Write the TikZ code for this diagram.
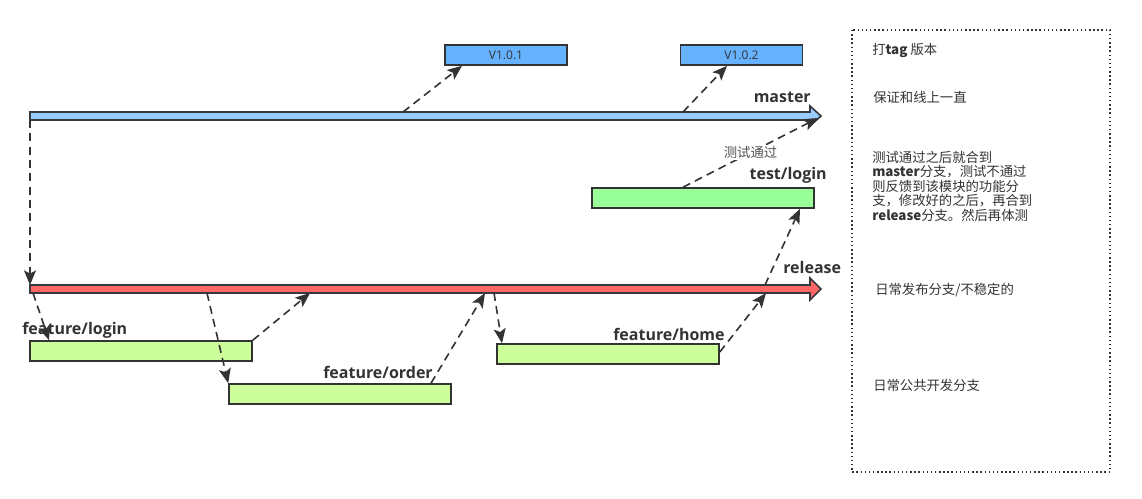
\documentclass[tikz,border=0pt]{standalone}
\usepackage{fontspec}
\setmainfont{Open Sans}
\newfontfamily\cjk{Noto Sans CJK SC}
\usetikzlibrary{arrows.meta}
\definecolor{ink}{HTML}{333333}
\definecolor{barline}{HTML}{36393D}
\definecolor{masterfill}{HTML}{99CCFF}
\definecolor{releasefill}{HTML}{FF6666}
\definecolor{tagfill}{HTML}{66B2FF}
\definecolor{featfill}{HTML}{CCFF99}
\definecolor{testfill}{HTML}{99FF99}
\tikzset{
  bar/.style={draw=barline, line width=1.2pt, line join=miter},
  tagbox/.style={draw=ink, line width=1.2pt, fill=tagfill, minimum width=91.5pt, minimum height=15pt, inner sep=0pt, font=\fontsize{9}{10}\selectfont, text=ink},
  branchbox/.style={draw=ink, line width=1.2pt, minimum width=166.5pt, minimum height=15pt, inner sep=0pt},
  blabel/.style={font=\bfseries\fontsize{12}{14}\selectfont, text=ink, inner sep=0pt},
  note/.style={font=\cjk\fontsize{10}{10.9}\selectfont, text=ink, inner sep=0pt, anchor=west, align=left},
  flow/.style={draw=ink, line width=1.2pt, dash pattern=on 6pt off 4pt, -{Stealth[length=11pt,width=9pt,inset=2.5pt]}},
}
\begin{document}
\begin{tikzpicture}[x=0.75pt,y=-0.75pt]
\useasboundingbox (0,0) rectangle (1142,499);
% bars
\draw[bar, fill=masterfill] (30,112) -- (810,112) -- (810,106) -- (821,116) -- (810,126) -- (810,120) -- (30,120) -- cycle;
\draw[bar, fill=releasefill] (30,285) -- (810,285) -- (810,278) -- (821,289) -- (810,300) -- (810,293) -- (30,293) -- cycle;
% bar attachment points
\coordinate (mStart) at (30,120);
\coordinate (mA) at (403,112);
\coordinate (mB) at (683,112);
\coordinate (mEnd) at (818,118);
\coordinate (rTop) at (30,285);
\coordinate (r1) at (33,293);
\coordinate (r2) at (310,293);
\coordinate (r3) at (207,293);
\coordinate (r4) at (485,293);
\coordinate (r5) at (494,293);
\coordinate (r6) at (766,293);
\coordinate (r7) at (765,285);
% boxes
\node[tagbox] (v1) at (506,55) {V1.0.1};
\node[tagbox] (v2) at (741.5,55) {V1.0.2};
\node[branchbox, fill=testfill] (test) at (703,198) {};
\node[branchbox, fill=featfill] (flogin) at (141,351) {};
\node[branchbox, fill=featfill] (forder) at (340,394) {};
\node[branchbox, fill=featfill] (fhome) at (608,354) {};
% labels
\node[blabel, anchor=east] (lmaster) at (811,97) {master};
\node[blabel, anchor=east] (ltest) at (827,175) {test/login};
\node[blabel, anchor=west] (lrelease) at (783,267) {release};
\node[blabel, anchor=west] (lflogin) at (22,330) {feature/login};
\node[blabel, anchor=west] (lforder) at (323,372) {feature/order};
\node[blabel, anchor=west] (lfhome) at (613,334) {feature/home};
% connectors
\draw[flow] (mStart) -- (rTop);
\draw[flow] (mA) -- (v1.south -| 462,0);
\draw[flow] (mB) -- (v2.south -| 727,0);
\draw[flow] (test.north -| 683,0) -- node[pos=0.5, fill=white, inner sep=1pt, font=\cjk\fontsize{10}{10}\selectfont, text=ink!85] (lpass) {测试通过} (mEnd);
\draw[flow] (r7) -- (test.south -| 800,0);
\draw[flow] (fhome.east |- 0,352) -- (r6);
\draw[flow] (r5) -- (fhome.north -| 502,0);
\draw[flow] (forder.north -| 431,0) -- (r4);
\draw[flow] (r3) -- (forder.north west);
\draw[flow] (flogin.north east) -- (r2);
\draw[flow] (r1) -- (flogin.north -| 49,0);
% legend box
\draw[draw=ink, line width=1.1pt, dash pattern=on 1.1pt off 2pt] (852,30) rectangle (1110,472);
\node[note] (n1) at (872,50) {打\textbf{tag} 版本};
\node[note] (n2) at (873,97) {保证和线上一直};
\node[note] (n3) at (872,186) {测试通过之后就合到\\\textbf{master}分支，测试不通过\\则反馈到该模块的功能分\\支，修改好的之后，再合到\\\textbf{release}分支。然后再体测};
\node[note] (n4) at (875,290) {日常发布分支/不稳定的};
\node[note] (n5) at (873,385) {日常公共开发分支};
\end{tikzpicture}
\end{document}
